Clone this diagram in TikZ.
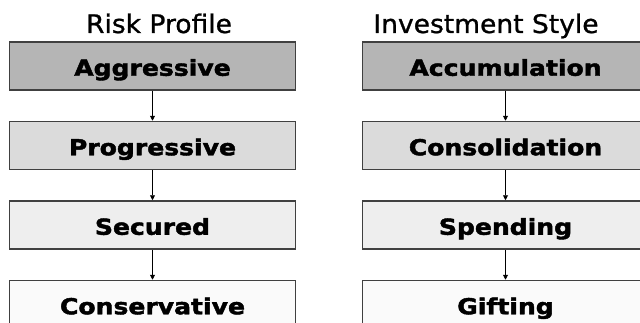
\documentclass[tikz,border=0pt]{standalone}
\usepackage{fontspec}
\setmainfont{DejaVu Sans}
\newfontfamily\boxfont[FakeStretch=1.14,FakeBold=2]{DejaVu Sans Bold}
\newfontfamily\headfont[FakeStretch=1.04,FakeBold=1]{DejaVu Sans}
\usetikzlibrary{positioning,arrows.meta}

\definecolor{shadeA}{gray}{0.71}
\definecolor{shadeB}{gray}{0.86}
\definecolor{shadeC}{gray}{0.935}
\definecolor{shadeD}{gray}{0.98}

\begin{document}
\begin{tikzpicture}[x=1pt, y=1pt,
  every node/.style={font=\boxfont\fontsize{22}{24}\selectfont},
  level/.style={draw=black!75, line width=1.5pt, minimum width=286pt, minimum height=48pt,
    inner sep=0pt, text height=19.5pt, text depth=0pt},
  head/.style={font=\headfont\fontsize{25.5}{28}\selectfont},
  link/.style={-{Triangle[length=5pt,width=5pt]}, line width=0.9pt}]
  \useasboundingbox (0,0) rectangle (640,322);

  % Headings
  \node[head, anchor=base] (risk) at (159,289) {Risk Profile};
  \node[head, anchor=base] (style) at (486,289) {Investment Style};

  % Risk profile column
  \node[level, fill=shadeA] (aggr) at (152.5,256) {Aggressive};
  \node[level, fill=shadeB, below=30pt of aggr] (prog) {Progressive};
  \node[level, fill=shadeC, below=30pt of prog] (secu) {Secured};
  \node[level, fill=shadeD, below=30pt of secu] (cons) {Conservative};

  % Investment style column
  \node[level, fill=shadeA] (accu) at (505.5,256) {Accumulation};
  \node[level, fill=shadeB, below=30pt of accu] (cnsl) {Consolidation};
  \node[level, fill=shadeC, below=30pt of cnsl] (spnd) {Spending};
  \node[level, fill=shadeD, below=30pt of spnd] (gift) {Gifting};

  % Links
  \foreach \a/\b in {aggr/prog, prog/secu, secu/cons, accu/cnsl, cnsl/spnd, spnd/gift}{
    \draw[link] (\a) -- (\b);
  }
\end{tikzpicture}
\end{document}
